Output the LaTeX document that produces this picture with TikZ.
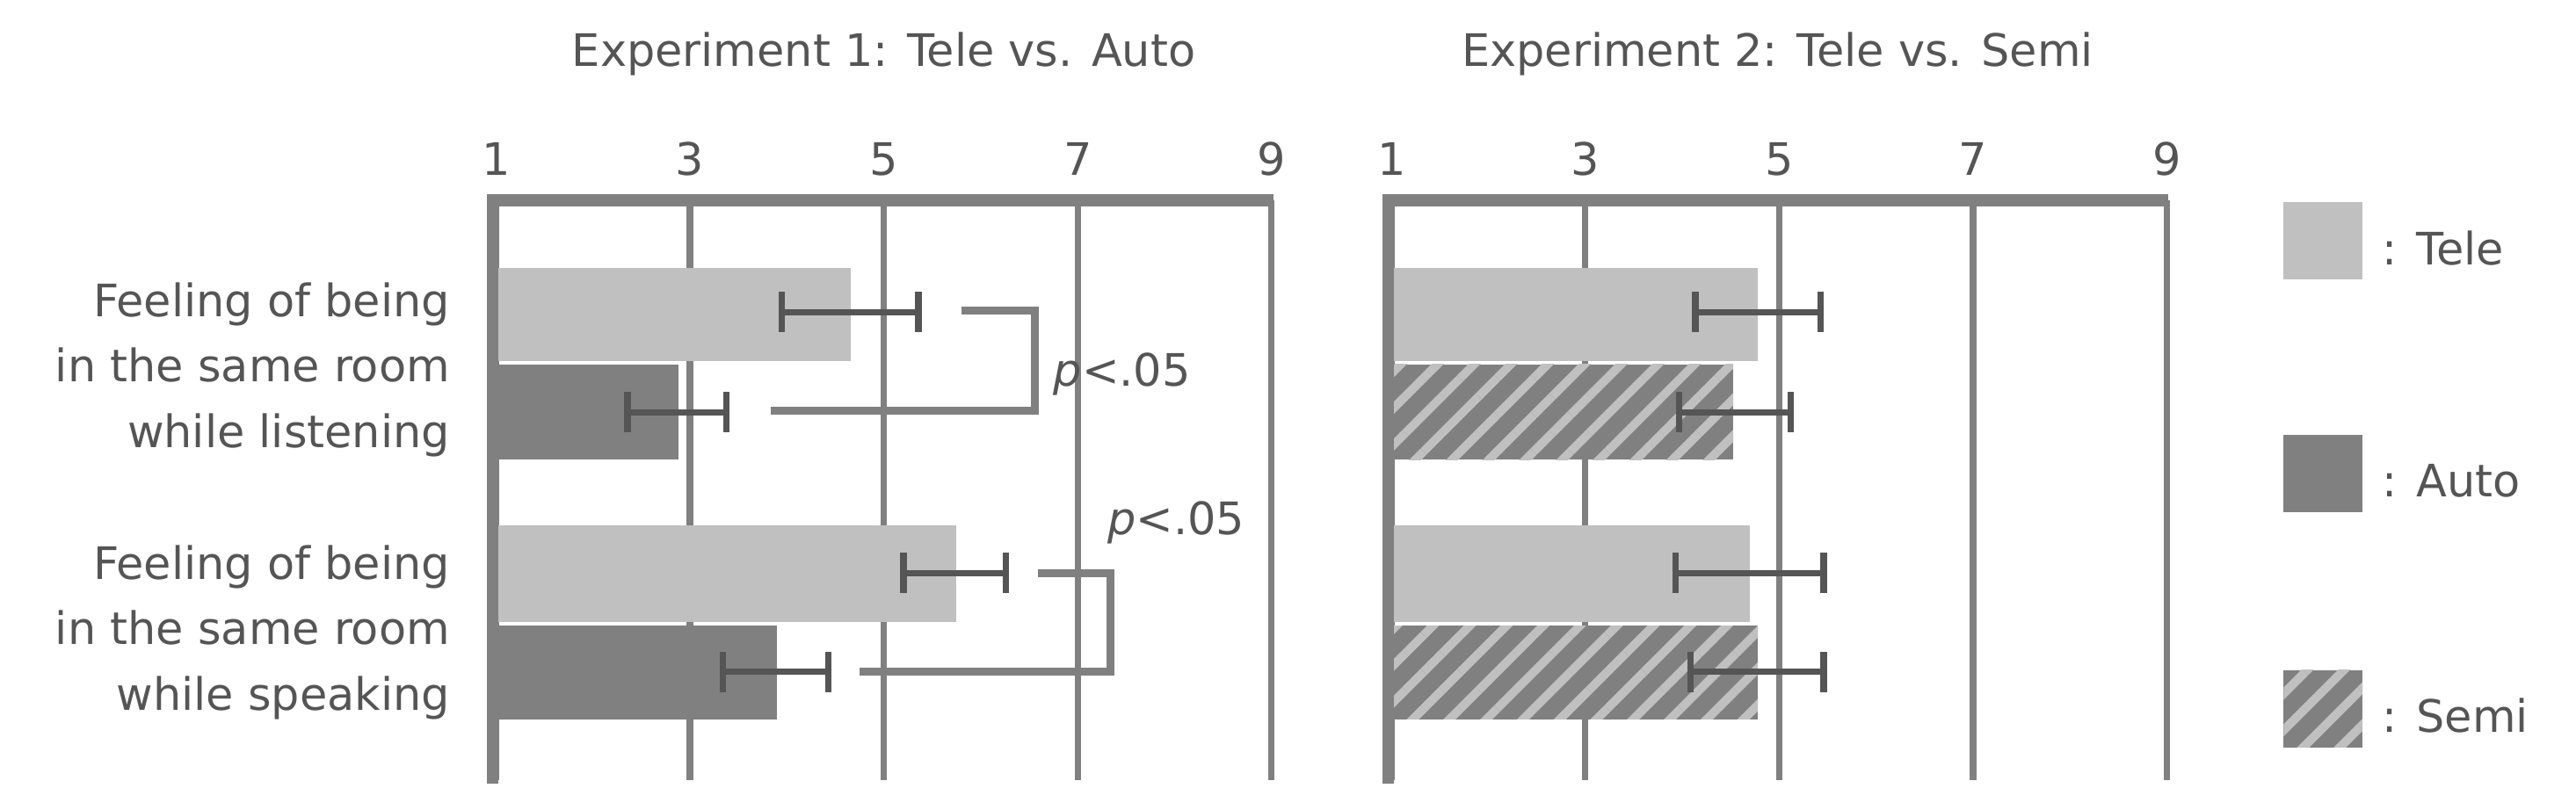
\documentclass[tikz,border=0pt]{standalone}
\usepackage{fontspec}
\setmainfont{DejaVu Sans}
\usetikzlibrary{arrows.meta,patterns.meta}
\definecolor{teleColor}{HTML}{C0C0C0}
\definecolor{autoColor}{HTML}{808080}
\definecolor{txtColor}{HTML}{555555}
\tikzset{
	grid line/.style={draw=autoColor, line width=2.2pt},
	frame line/.style={draw=autoColor, line width=4pt},
	tele bar/.style={fill=teleColor, draw=none},
	auto bar/.style={fill=autoColor, draw=none},
	semi bar/.style={draw=none, pattern={Lines[angle=45,distance=9pt,line width=3pt]}, pattern color=teleColor},
	err/.style={draw=txtColor, line width=2.2pt, {Bar[width=14pt]}-{Bar[width=14pt]}},
	bracket/.style={draw=autoColor, line width=2.6pt},
	lab/.style={text=txtColor, font=\fontsize{15.5}{22.7}\selectfont},
}
\begin{document}
\begin{tikzpicture}[x=0.02cm, y=-0.02cm]
	\useasboundingbox (0,0) rectangle (1568,493);
	% titles
	\node[lab] (title1) at (538,33) {Experiment 1: Tele vs. Auto};
	\node[lab] (title2) at (1082,33) {Experiment 2: Tele vs. Semi};
	% grids
	\foreach \ox/\nm in {302/a,847/b}{
		\foreach \v in {1,3,5,7,9}{
			\path[grid line] ({\ox+(\v-1)*59},122) -- ({\ox+(\v-1)*59},475);
			\node[lab] (tick\nm\v) at ({\ox+(\v-1)*59},97) {\v};
		}
	}
	% bars chart 1
	\fill[tele bar] (302,163) rectangle (518,220);
	\fill[auto bar] (302,222) rectangle (413,280);
	\fill[tele bar] (302,320) rectangle (582,379);
	\fill[auto bar] (302,381) rectangle (473,438);
	% bars chart 2
	\fill[tele bar] (847,163) rectangle (1070,220);
	\fill[autoColor] (847,222) rectangle (1055,280);
	\fill[semi bar] (847,222) rectangle (1055,280);
	\fill[tele bar] (847,320) rectangle (1065,379);
	\fill[autoColor] (847,381) rectangle (1070,438);
	\fill[semi bar] (847,381) rectangle (1070,438);
	% frames
	\path[frame line] (300,477) -- (300,122) -- (775,122);
	\path[frame line] (845,477) -- (845,122) -- (1320,122);
	% error bars
	\coordinate (e1a) at (474,190); \coordinate (e1b) at (561,190);
	\coordinate (e2a) at (380,251); \coordinate (e2b) at (444,251);
	\coordinate (e3a) at (548,349); \coordinate (e3b) at (614,349);
	\coordinate (e4a) at (438,409); \coordinate (e4b) at (506,409);
	\coordinate (e5a) at (1030,190); \coordinate (e5b) at (1110,190);
	\coordinate (e6a) at (1020,251); \coordinate (e6b) at (1092,251);
	\coordinate (e7a) at (1018,349); \coordinate (e7b) at (1112,349);
	\coordinate (e8a) at (1027,409); \coordinate (e8b) at (1112,409);
	\foreach \i in {1,...,8}{\draw[err] (e\i a) -- (e\i b);}
	% significance brackets
	\coordinate (s1a) at (585,189); \coordinate (s1b) at (469,250);
	\draw[bracket] (s1a) -| (630,250) -- (s1b);
	\node[lab] (sig1) at (683,228) {\textit{p}<.05};
	\coordinate (s2a) at (632,349); \coordinate (s2b) at (523,409);
	\draw[bracket] (s2a) -| (676,409) -- (s2b);
	\node[lab] (sig2) at (716,318) {\textit{p}<.05};
	% row labels
	\node[lab, anchor=east, align=right] (row1) at (280,225) {Feeling of being\\in the same room\\while listening};
	\node[lab, anchor=east, align=right] (row2) at (280,385) {Feeling of being\\in the same room\\while speaking};
	% legend
	\fill[tele bar] (1390,123) rectangle (1438,170);
	\fill[auto bar] (1390,265) rectangle (1438,312);
	\fill[autoColor] (1390,408) rectangle (1438,455);
	\fill[semi bar] (1390,408) rectangle (1438,455);
	\node[lab, anchor=west] (legTele) at (1444,151) {: Tele};
	\node[lab, anchor=west] (legAuto) at (1444,293) {: Auto};
	\node[lab, anchor=west] (legSemi) at (1444,436) {: Semi};
\end{tikzpicture}
\end{document}
